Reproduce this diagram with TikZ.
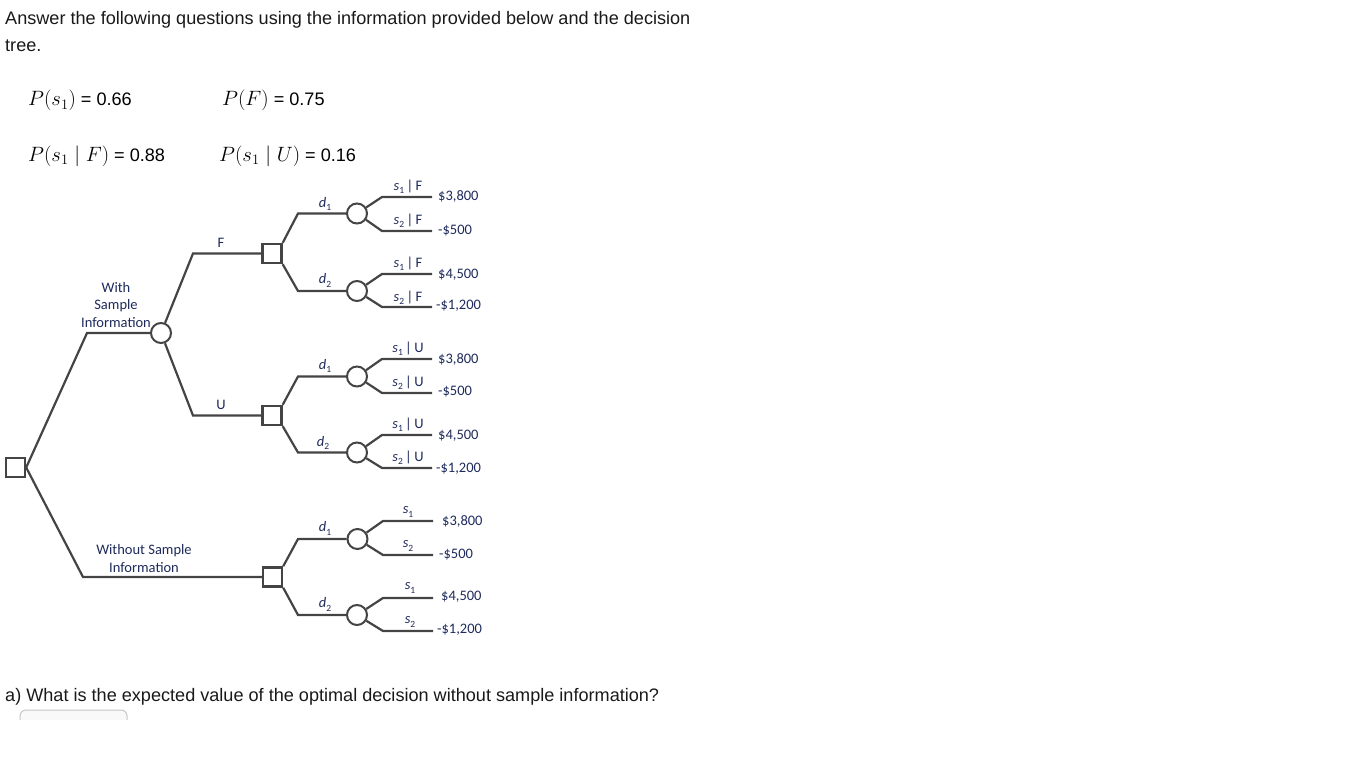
\documentclass[tikz,border=0pt]{standalone}
\usepackage[no-math]{fontspec}
\setmainfont{Liberation Sans}
\newfontfamily\carl{Carlito}
\definecolor{lc}{HTML}{444444}
\definecolor{tc}{HTML}{1E2A5C}
\newcommand{\sv}[2]{{\itshape #1}\raisebox{-0.22em}{\fontsize{9.5}{10}\selectfont #2}}
\newcommand{\mth}[1]{{\fontsize{21}{24}\selectfont$#1$}}
\tikzset{
  br/.style={draw=lc, line width=2.2pt},
  dec/.style={draw=lc, line width=2.4pt, fill=white, minimum size=19pt, inner sep=0pt},
  chance/.style={circle, draw=lc, line width=2pt, fill=white, minimum size=20pt, inner sep=0pt},
  lbl/.style={font=\carl\fontsize{14.5}{17.5}\selectfont, text=tc, inner sep=0pt},
  pay/.style={lbl, anchor=west},
  qtext/.style={font=\fontsize{18.1}{20}\selectfont, text=black!90, anchor=base west, inner sep=0pt},
  mtext/.style={font=\fontsize{18.1}{20}\selectfont, text=black, anchor=base west, inner sep=0pt}
}
\begin{document}
\begin{tikzpicture}[x=1pt, y=-1pt]
\useasboundingbox (0,0) rectangle (1345,776);
% heading
\node[qtext] (h1) at (5,25) {Answer the following questions using the information provided below and the decision};
\node[qtext] (h2) at (5,52) {tree.};
\node[mtext] (p1) at (28,106) {\mth{P(s_1)} = 0.66};
\node[mtext] (p2) at (222,106) {\mth{P(F)} = 0.75};
\node[mtext] (p3) at (28,161) {\mth{P(s_1 \mid F)} = 0.88};
\node[mtext] (p4) at (219,161) {\mth{P(s_1 \mid U)} = 0.16};
\node[qtext] (q1) at (5,701) {a) What is the expected value of the optimal decision without sample information?};
\begin{scope}
\clip (0,700) rectangle (200,719);
\draw[draw=gray!45, fill=gray!5, line width=1pt, rounded corners=6] (20,735) -- (20,710) -- (127,710) -- (127,735);
\end{scope}

% root
\node[dec] (D0) at (15.5,467.5) {};
\node[chance] (C0) at (161,333) {};
\node[dec] (DF) at (272,253.5) {};
\node[dec] (DU) at (272,415.5) {};
\node[dec] (DW) at (272.5,577) {};
\coordinate (kWS) at (87,333);
\coordinate (kWO) at (83,577);
\coordinate (kF) at (193,253.5);
\coordinate (kU) at (193,415.5);
\draw[br] (D0.east) -- (kWS) -- (C0);
\draw[br] (D0.east) -- (kWO) -- (DW.west);
\draw[br] (C0) -- (kF) -- (DF.west);
\draw[br] (C0) -- (kU) -- (DU.west);
\node[lbl, align=center] (lws) at (116,305) {With\\Sample\\Information};
\node[lbl, align=center] (lwo) at (144,558.5) {Without Sample\\Information};
\node[lbl] (lF) at (221,243) {F};
\node[lbl] (lU) at (221,405) {U};

% chance nodes
\node[chance] (CF1) at (357,213.5) {};
\node[chance] (CF2) at (357,291) {};
\node[chance] (CU1) at (357,376.5) {};
\node[chance] (CU2) at (357,452.5) {};
\node[chance] (CW1) at (357.5,539) {};
\node[chance] (CW2) at (357,615) {};

\draw[br] (DF.north east) -- (298,213.5) -- (CF1.west);
\draw[br] (DF.south east) -- (298,291) -- (CF2.west);
\draw[br] (DU.north east) -- (298,376.5) -- (CU1.west);
\draw[br] (DU.south east) -- (298,452.5) -- (CU2.west);
\draw[br] (DW.north east) -- (298,539) -- (CW1.west);
\draw[br] (DW.south east) -- (298,615) -- (CW2.west);
\node[lbl] (dF1) at (325,204) {\sv{d}{1}};
\node[lbl] (dF2) at (325,280.5) {\sv{d}{2}};
\node[lbl] (dU1) at (325,366) {\sv{d}{1}};
\node[lbl] (dU2) at (323,443) {\sv{d}{2}};
\node[lbl] (dW1) at (325,528.5) {\sv{d}{1}};
\node[lbl] (dW2) at (325,604.5) {\sv{d}{2}};

% end points
\coordinate (eF1) at (432,197);   \coordinate (eF2) at (432,231);
\coordinate (eF3) at (432,274);   \coordinate (eF4) at (432,307);
\coordinate (eU1) at (432,359);   \coordinate (eU2) at (432,393);
\coordinate (eU3) at (432,435);   \coordinate (eU4) at (432,468);
\coordinate (eW1) at (433,521);   \coordinate (eW2) at (433,555);
\coordinate (eW3) at (433,598);   \coordinate (eW4) at (433,631);

\draw[br] (CF1) -- (382,197) -- (eF1);
\draw[br] (CF1) -- (382,231) -- (eF2);
\draw[br] (CF2) -- (382,274) -- (eF3);
\draw[br] (CF2) -- (382,307) -- (eF4);
\draw[br] (CU1) -- (382,359) -- (eU1);
\draw[br] (CU1) -- (382,393) -- (eU2);
\draw[br] (CU2) -- (382,435) -- (eU3);
\draw[br] (CU2) -- (382,468) -- (eU4);
\draw[br] (CW1) -- (383,521) -- (eW1);
\draw[br] (CW1) -- (383,555) -- (eW2);
\draw[br] (CW2) -- (383,598) -- (eW3);
\draw[br] (CW2) -- (383,631) -- (eW4);

\node[lbl] (sF1) at (408,186.5) {\sv{s}{1}\,|\,F};
\node[lbl] (sF2) at (408,220.5) {\sv{s}{2}\,|\,F};
\node[lbl] (sF3) at (408,263.5) {\sv{s}{1}\,|\,F};
\node[lbl] (sF4) at (408,298) {\sv{s}{2}\,|\,F};
\node[lbl] (sU1) at (408,348.5) {\sv{s}{1}\,|\,U};
\node[lbl] (sU2) at (408,382.5) {\sv{s}{2}\,|\,U};
\node[lbl] (sU3) at (408,424.5) {\sv{s}{1}\,|\,U};
\node[lbl] (sU4) at (408,457.5) {\sv{s}{2}\,|\,U};
\node[lbl] (sW1) at (408,512) {\sv{s}{1}};
\node[lbl] (sW2) at (408,546) {\sv{s}{2}};
\node[lbl] (sW3) at (410,588) {\sv{s}{1}};
\node[lbl] (sW4) at (410,622) {\sv{s}{2}};

\node[pay] (vF1) at (438,196) {\$3,800};
\node[pay] (vF2) at (438,231) {-\$500};
\node[pay] (vF3) at (438,275) {\$4,500};
\node[pay] (vF4) at (436,306) {-\$1,200};
\node[pay] (vU1) at (438,359) {\$3,800};
\node[pay] (vU2) at (438,392) {-\$500};
\node[pay] (vU3) at (438,436) {\$4,500};
\node[pay] (vU4) at (436,469) {-\$1,200};
\node[pay] (vW1) at (442,521) {\$3,800};
\node[pay] (vW2) at (439,555) {-\$500};
\node[pay] (vW3) at (441,597) {\$4,500};
\node[pay] (vW4) at (437,630) {-\$1,200};
\end{tikzpicture}
\end{document}
